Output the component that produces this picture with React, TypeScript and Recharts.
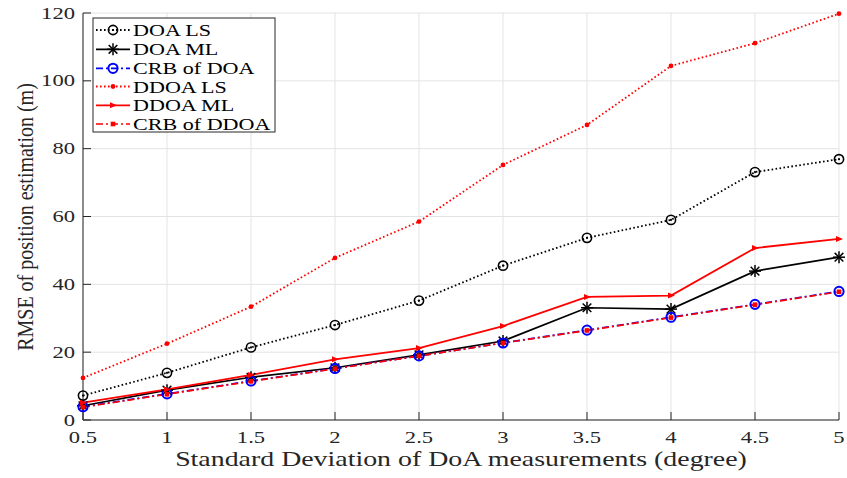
import React from "react";
import { LineChart, Line, XAxis, YAxis, CartesianGrid } from "recharts";

const sigma = [0.5, 1, 1.5, 2, 2.5, 3, 3.5, 4, 4.5, 5];
const doaLS = [7.2, 13.9, 21.4, 28.0, 35.2, 45.5, 53.7, 59.0, 73.1, 76.9];
const doaML = [4.2, 8.8, 12.6, 15.4, 19.2, 23.3, 33.1, 32.7, 43.9, 48.0];
const crbDOA = [3.9, 7.7, 11.5, 15.2, 18.9, 22.7, 26.5, 30.3, 34.1, 37.9];
const ddoaLS = [12.4, 22.5, 33.4, 47.8, 58.5, 75.2, 87.0, 104.4, 111.1, 119.8];
const ddoaML = [5.1, 9.0, 13.3, 17.9, 21.2, 27.7, 36.3, 36.7, 50.7, 53.4];
const crbDDOA = [3.8, 7.6, 11.4, 15.1, 18.9, 22.7, 26.4, 30.2, 34.0, 37.8];
const xTicks = [0.5, 1, 1.5, 2, 2.5, 3, 3.5, 4, 4.5, 5];
const yTicks = [0, 20, 40, 60, 80, 100, 120];
const seriesNames = ["DOA LS", "DOA ML", "CRB of DOA", "DDOA LS", "DDOA ML", "CRB of DDOA"];
const xLabel = "Standard Deviation of DoA measurements (degree)";
const yLabel = "RMSE of position estimation (m)";

const data = sigma.map((s, i) => ({
  s,
  doaLS: doaLS[i],
  doaML: doaML[i],
  crbDOA: crbDOA[i],
  ddoaLS: ddoaLS[i],
  ddoaML: ddoaML[i],
  crbDDOA: crbDDOA[i],
}));

const FONT = "'Liberation Serif', 'Times New Roman', serif";
const AX = "#262626";
const SX = 1.33;

type Kind = "circleDot" | "asterisk" | "blueCircle" | "redDot" | "triangle" | "square";

function Marker({ kind, cx, cy }: { kind: Kind; cx: number; cy: number }) {
  switch (kind) {
    case "circleDot":
      return (
        <g>
          <circle cx={cx} cy={cy} r={4.6} fill="none" stroke="#000" strokeWidth={1.6} />
          <circle cx={cx} cy={cy} r={1.1} fill="#000" />
        </g>
      );
    case "asterisk": {
      const r = 6;
      const d = r * 0.72;
      return (
        <g stroke="#000" strokeWidth={1.5}>
          <line x1={cx} y1={cy - r} x2={cx} y2={cy + r} />
          <line x1={cx - r} y1={cy} x2={cx + r} y2={cy} />
          <line x1={cx - d} y1={cy - d} x2={cx + d} y2={cy + d} />
          <line x1={cx - d} y1={cy + d} x2={cx + d} y2={cy - d} />
        </g>
      );
    }
    case "blueCircle":
      return <circle cx={cx} cy={cy} r={4.6} fill="none" stroke="#0000ff" strokeWidth={2} />;
    case "redDot":
      return <circle cx={cx} cy={cy} r={2.4} fill="#ff0000" />;
    case "triangle":
      return (
        <polygon
          points={`${cx + 4},${cy} ${cx - 3},${cy - 3} ${cx - 3},${cy + 3}`}
          fill="#ff0000"
        />
      );
    case "square":
      return <rect x={cx - 2.3} y={cy - 2.3} width={4.6} height={4.6} fill="#ff0000" />;
  }
  return null;
}

const dotFn = (kind: Kind) => (p: any) => (
  <g key={`${kind}-${p.index}`}>
    <Marker kind={kind} cx={p.cx} cy={p.cy} />
  </g>
);

const series: { key: string; name: string; color: string; dash?: string; width: number; kind: Kind }[] = [
  { key: "doaLS", name: seriesNames[0], color: "#000000", dash: "1.6 2.4", width: 1.8, kind: "circleDot" },
  { key: "doaML", name: seriesNames[1], color: "#000000", width: 1.7, kind: "asterisk" },
  { key: "crbDOA", name: seriesNames[2], color: "#0000ff", dash: "7 3 2 3", width: 1.7, kind: "blueCircle" },
  { key: "ddoaLS", name: seriesNames[3], color: "#ff0000", dash: "1.6 2.4", width: 1.8, kind: "redDot" },
  { key: "ddoaML", name: seriesNames[4], color: "#ff0000", width: 1.8, kind: "triangle" },
  { key: "crbDDOA", name: seriesNames[5], color: "#ff0000", dash: "7 3 2 3", width: 1.7, kind: "square" },
];

const XTickBottom = (p: any) => (
  <g>
    <line x1={p.x} y1={p.y} x2={p.x} y2={p.y - 8} stroke={AX} strokeWidth={1} />
    <text
      transform={`translate(${p.x},${p.y + 23}) scale(${SX},1)`}
      textAnchor="middle"
      fontSize={17}
      fontFamily={FONT}
      fill="#262626"
    >
      {p.payload.value}
    </text>
  </g>
);

const XTickTop = (p: any) => (
  <line x1={p.x} y1={p.y} x2={p.x} y2={p.y + 8} stroke={AX} strokeWidth={1} />
);

const YTickLeft = (p: any) => (
  <g>
    <line x1={p.x} y1={p.y} x2={p.x + 8} y2={p.y} stroke={AX} strokeWidth={1} />
    <text
      transform={`translate(${p.x - 8},${p.y + 5.5}) scale(${SX},1)`}
      textAnchor="end"
      fontSize={17}
      fontFamily={FONT}
      fill="#262626"
    >
      {p.payload.value}
    </text>
  </g>
);

const YTickRight = (p: any) => (
  <line x1={p.x} y1={p.y} x2={p.x - 8} y2={p.y} stroke={AX} strokeWidth={1} />
);

export default function App() {
  const legendTop = 18;
  const rowCenters = [30, 49.3, 68.3, 86.5, 105.3, 124];
  return (
    <div style={{ position: "absolute", left: 0, top: 0, width: 847, height: 478, background: "#fff" }}>
      <LineChart
        width={847}
        height={478}
        data={data}
        margin={{ top: 13, right: 8, bottom: 0, left: 0 }}
      >
        <CartesianGrid stroke="#e3e3e3" strokeWidth={1} />
        <XAxis
          dataKey="s"
          type="number"
          domain={[0.5, 5]}
          ticks={xTicks}
          height={58}
          tickSize={0}
          tickMargin={0}
          tickLine={false}
          axisLine={{ stroke: AX, strokeWidth: 1 }}
          tick={XTickBottom}
          interval={0}
        />
        <XAxis
          xAxisId="top"
          orientation="top"
          dataKey="s"
          type="number"
          domain={[0.5, 5]}
          ticks={xTicks}
          height={0}
          tickSize={0}
          tickMargin={0}
          tickLine={false}
          axisLine={{ stroke: AX, strokeWidth: 1 }}
          tick={XTickTop}
          interval={0}
        />
        <YAxis
          type="number"
          domain={[0, 120]}
          ticks={yTicks}
          width={83}
          tickSize={0}
          tickMargin={0}
          tickLine={false}
          axisLine={{ stroke: AX, strokeWidth: 1 }}
          tick={YTickLeft}
          interval={0}
        />
        <YAxis
          yAxisId="right"
          orientation="right"
          type="number"
          domain={[0, 120]}
          ticks={yTicks}
          width={0}
          tickSize={0}
          tickMargin={0}
          tickLine={false}
          axisLine={{ stroke: AX, strokeWidth: 1 }}
          tick={YTickRight}
          interval={0}
        />
        <Line
          xAxisId="top"
          yAxisId="right"
          dataKey="crbDOA"
          stroke="none"
          dot={false}
          activeDot={false}
          legendType="none"
          isAnimationActive={false}
        />
        {series.map((s) => (
          <Line
            key={s.key}
            type="linear"
            dataKey={s.key}
            name={s.name}
            stroke={s.color}
            strokeWidth={s.width}
            strokeDasharray={s.dash}
            dot={dotFn(s.kind)}
            activeDot={false}
            isAnimationActive={false}
          />
        ))}
      </LineChart>
      <svg
        width={847}
        height={478}
        style={{ position: "absolute", left: 0, top: 0, pointerEvents: "none" }}
      >
        <text
          transform={`translate(461,466) scale(1.36,1)`}
          textAnchor="middle"
          fontSize={20.5}
          fontFamily={FONT}
          fill="#262626"
        >
          {xLabel}
        </text>
        <text
          transform="translate(33,217) scale(1.2,1) rotate(-90)"
          textAnchor="middle"
          fontSize={20}
          fontFamily={FONT}
          fill="#262626"
        >
          {yLabel}
        </text>
        <rect x={93} y={legendTop} width={182} height={114} fill="#fff" stroke={AX} strokeWidth={1} />
        {series.map((s, i) => {
          const cy = rowCenters[i];
          return (
            <g key={s.key}>
              <line
                x1={96}
                y1={cy}
                x2={130}
                y2={cy}
                stroke={s.color}
                strokeWidth={s.width}
                strokeDasharray={s.dash}
              />
              <Marker kind={s.kind} cx={113} cy={cy} />
              <text
                transform={`translate(133,${cy + 6}) scale(1.3,1)`}
                fontSize={17}
                fontFamily={FONT}
                fill="#000"
              >
                {s.name}
              </text>
            </g>
          );
        })}
      </svg>
    </div>
  );
}
